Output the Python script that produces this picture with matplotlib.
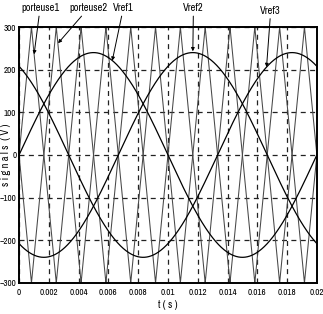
import numpy as np
import matplotlib
matplotlib.use("Agg")
import matplotlib.pyplot as plt

# reference signals (three-phase sine)
ref_names = ["Vref1", "Vref2", "Vref3"]
ref_amp = 240
ref_freq = 50
ref_phase_deg = [0, -120, 120]

# carriers (triangles, porteuse2 is porteuse1 inverted)
carrier_names = ["porteuse1", "porteuse2"]
carrier_peak = 300
carrier_freq = 300
carrier_sign = [1, -1]

t_end = 0.02
x_ticks = [0, 0.002, 0.004, 0.006, 0.008, 0.01, 0.012, 0.014, 0.016, 0.018, 0.02]
x_tick_labels = ["0", "0.002", "0.004", "0.006", "0.008", "0.01", "0.012",
                 "0.014", "0.016", "0.018", "0.02"]
y_ticks = [-300, -200, -100, 0, 100, 200, 300]

plt.rcParams["font.family"] = ["Archivo Narrow", "DejaVu Sans"]

t = np.linspace(0, t_end, 6001)

fig = plt.figure(figsize=(3.23, 3.14), dpi=100)
ax = fig.add_axes([0.059, 0.099, 0.922, 0.815])

for s in carrier_sign:
    tri = s * carrier_peak * (2 / np.pi) * np.arcsin(np.sin(2 * np.pi * carrier_freq * t))
    ax.plot(t, tri, color="#484848", lw=0.75)

for ph in ref_phase_deg:
    v = ref_amp * np.sin(2 * np.pi * ref_freq * t + np.deg2rad(ph))
    ax.plot(t, v, color="black", lw=0.9)

ax.set_xlim(0, t_end)
ax.set_ylim(-300, 300)
ax.set_xticks(x_ticks)
ax.set_xticklabels(x_tick_labels)
ax.set_yticks(y_ticks)
ax.tick_params(labelsize=6.5, length=0, pad=4)
ax.tick_params(axis="y", pad=2)
ax.grid(True, color="#222222", lw=0.9, linestyle=(0, (4, 3.5)))
for sp in ax.spines.values():
    sp.set_linewidth(1.4)

ax.set_xlabel("t ( s )", fontsize=7.5, labelpad=2)
ax.set_ylabel("s i g n a l s  ( V )", fontsize=7.5, labelpad=-8)

# labels with arrows
labels = [
    ("porteuse1", (0.00141, 332), (0.00101, 236)),
    ("porteuse2", (0.00465, 332), (0.00262, 262)),
    ("Vref1", (0.0070, 332), (0.00626, 221)),
    ("Vref2", (0.01171, 332), (0.01167, 243)),
    ("Vref3", (0.0169, 326), (0.01662, 206)),
]
for txt, pos, tip in labels:
    ax.annotate(txt, xy=tip, xytext=pos, fontsize=7.5, ha="center", va="bottom",
                annotation_clip=False,
                arrowprops=dict(arrowstyle="-|>", color="black", lw=0.7,
                                mutation_scale=5, shrinkA=0, shrinkB=0))

fig.savefig("out.png", dpi=100)
